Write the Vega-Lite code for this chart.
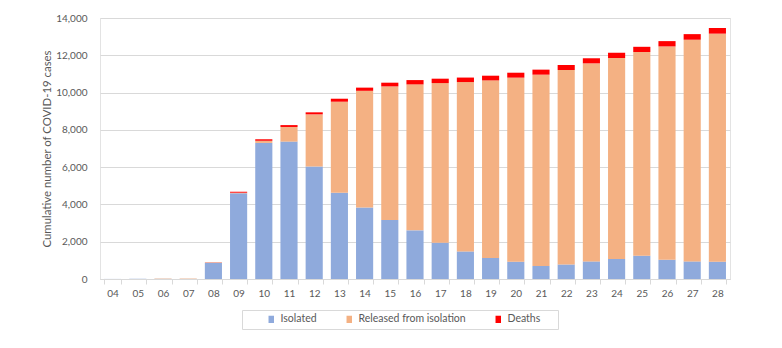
{
  "$schema": "https://vega.github.io/schema/vega-lite/v6.json",
  "width": 630,
  "height": 261,
  "autosize": {"type": "none"},
  "padding": {"left": 100, "top": 18, "right": 52, "bottom": 69},
  "background": "white",
  "data": {
    "values": [
      {"week": "04", "Isolated": 4, "Released from isolation": 0, "Deaths": 0},
      {"week": "05", "Isolated": 12, "Released from isolation": 0, "Deaths": 0},
      {"week": "06", "Isolated": 8, "Released from isolation": 20, "Deaths": 0},
      {"week": "07", "Isolated": 6, "Released from isolation": 22, "Deaths": 0},
      {"week": "08", "Isolated": 870, "Released from isolation": 25, "Deaths": 8},
      {"week": "09", "Isolated": 4600, "Released from isolation": 30, "Deaths": 50},
      {"week": "10", "Isolated": 7300, "Released from isolation": 115, "Deaths": 80},
      {"week": "11", "Isolated": 7370, "Released from isolation": 785, "Deaths": 100},
      {"week": "12", "Isolated": 6040, "Released from isolation": 2790, "Deaths": 110},
      {"week": "13", "Isolated": 4620, "Released from isolation": 4890, "Deaths": 160},
      {"week": "14", "Isolated": 3830, "Released from isolation": 6265, "Deaths": 170},
      {"week": "15", "Isolated": 3170, "Released from isolation": 7160, "Deaths": 200},
      {"week": "16", "Isolated": 2610, "Released from isolation": 7830, "Deaths": 230},
      {"week": "17", "Isolated": 1950, "Released from isolation": 8560, "Deaths": 235},
      {"week": "18", "Isolated": 1480, "Released from isolation": 9085, "Deaths": 240},
      {"week": "19", "Isolated": 1130, "Released from isolation": 9525, "Deaths": 250},
      {"week": "20", "Isolated": 930, "Released from isolation": 9870, "Deaths": 265},
      {"week": "21", "Isolated": 700, "Released from isolation": 10260, "Deaths": 270},
      {"week": "22", "Isolated": 780, "Released from isolation": 10430, "Deaths": 270},
      {"week": "23", "Isolated": 945, "Released from isolation": 10620, "Deaths": 275},
      {"week": "24", "Isolated": 1070, "Released from isolation": 10785, "Deaths": 275},
      {"week": "25", "Isolated": 1250, "Released from isolation": 10925, "Deaths": 280},
      {"week": "26", "Isolated": 1035, "Released from isolation": 11440, "Deaths": 285},
      {"week": "27", "Isolated": 945, "Released from isolation": 11890, "Deaths": 300},
      {"week": "28", "Isolated": 930, "Released from isolation": 12230, "Deaths": 305}
    ]
  },
  "transform": [
    {"fold": ["Isolated", "Released from isolation", "Deaths"], "as": ["status", "cases"]},
    {"window": [{"op": "row_number", "as": "layer"}], "groupby": ["week"]}
  ],
  "mark": {"type": "bar"},
  "encoding": {
    "x": {
      "field": "week",
      "type": "ordinal",
      "scale": {"paddingInner": 0.32, "paddingOuter": 0.16},
      "axis": {
        "title": null,
        "labelAngle": 0,
        "tickBand": "extent",
        "tickSize": 5,
        "tickColor": "#d9d9d9",
        "domainColor": "#d9d9d9",
        "labelPadding": 4
      }
    },
    "y": {
      "field": "cases",
      "type": "quantitative",
      "stack": "zero",
      "scale": {"domain": [0, 14000], "nice": false},
      "axis": {
        "title": "Cumulative number of COVID-19 cases",
        "values": [0, 2000, 4000, 6000, 8000, 10000, 12000, 14000],
        "format": ",d",
        "ticks": false,
        "tickSize": 0,
        "domain": false,
        "labelPadding": 13,
        "titlePadding": 3,
        "gridColor": "#d9d9d9"
      }
    },
    "order": {"field": "layer", "type": "quantitative", "sort": "ascending"},
    "color": {
      "field": "status",
      "type": "nominal",
      "sort": ["Isolated", "Released from isolation", "Deaths"],
      "scale": {
        "domain": ["Isolated", "Released from isolation", "Deaths"],
        "range": ["#8faadc", "#f4b183", "#ff0000"]
      },
      "legend": {
        "title": "\u00a0",
        "titleOrient": "right",
        "titlePadding": 14,
        "orient": "none",
        "legendX": 142,
        "legendY": 292,
        "direction": "horizontal",
        "padding": 4,
        "symbolOffset": 20,
        "symbolType": "M-0.75,-1H0.75V1H-0.75Z",
        "symbolSize": 53,
        "symbolStrokeWidth": 0,
        "labelOffset": 4,
        "columnPadding": 7,
        "strokeColor": "#d9d9d9",
        "fillColor": "white"
      }
    }
  },
  "config": {
    "view": {"stroke": "#e3e3e3"},
    "axis": {
      "labelFont": "Lato",
      "labelFontSize": 10,
      "labelColor": "#595959",
      "titleFont": "Lato",
      "titleFontSize": 11.4,
      "titleFontWeight": "normal",
      "titleColor": "#595959"
    },
    "legend": {
      "labelFont": "Lato",
      "labelFontSize": 10.5,
      "labelColor": "#595959",
      "titleFont": "Lato",
      "titleFontSize": 10
    }
  }
}
